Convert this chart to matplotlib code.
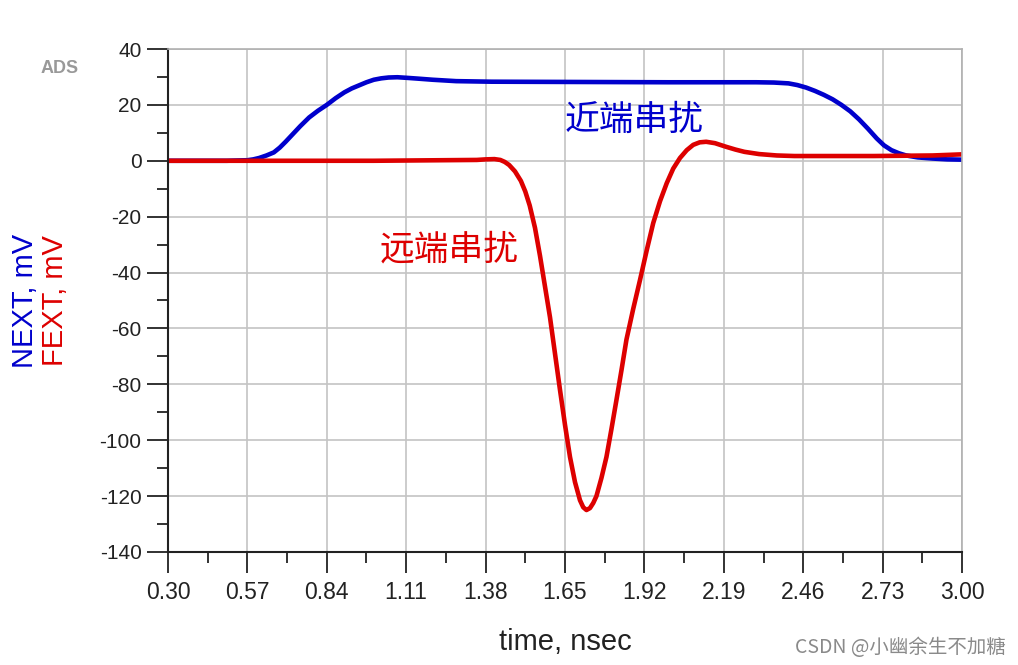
import matplotlib
matplotlib.use("Agg")
import matplotlib.pyplot as plt
from matplotlib.ticker import MultipleLocator, FixedLocator

# NEXT (near-end crosstalk), mV vs time in nsec
next_t = [0.30, 0.50, 0.57, 0.59, 0.61, 0.635, 0.66, 0.68, 0.70, 0.725,
          0.75, 0.78, 0.81, 0.84, 0.87, 0.90, 0.925, 0.95, 0.975, 1.00,
          1.025, 1.05, 1.08, 1.11, 1.15, 1.20, 1.28, 1.40, 2.00, 2.30,
          2.36, 2.41, 2.44, 2.47, 2.50, 2.53, 2.56, 2.59, 2.62, 2.65,
          2.68, 2.71, 2.735, 2.76, 2.785, 2.81, 2.85, 2.90, 2.95, 3.00]
next_v = [0.0, 0.0, 0.2, 0.5, 1.0, 1.9, 3.0, 4.7, 6.8, 9.6,
          12.4, 15.5, 17.9, 20.0, 22.4, 24.5, 25.9, 27.0, 28.1, 29.0,
          29.5, 29.8, 29.9, 29.7, 29.4, 29.0, 28.5, 28.3, 28.1, 28.1,
          28.0, 27.7, 27.1, 26.2, 25.0, 23.6, 22.0, 20.0, 17.7, 14.8,
          11.5, 8.0, 5.5, 3.8, 2.7, 1.9, 1.2, 0.8, 0.5, 0.4]

# FEXT (far-end crosstalk), mV vs time in nsec
fext_t = [0.30, 0.57, 1.00, 1.35, 1.38, 1.41, 1.43, 1.445, 1.46, 1.48,
          1.50, 1.515, 1.53, 1.548, 1.565, 1.582, 1.599, 1.616, 1.633,
          1.65, 1.667, 1.684, 1.701, 1.712, 1.723, 1.735, 1.746, 1.757,
          1.774, 1.791, 1.808, 1.825, 1.842, 1.859, 1.882, 1.905, 1.928,
          1.95, 1.973, 1.996, 2.018, 2.041, 2.064, 2.086, 2.108, 2.13,
          2.16, 2.198, 2.23, 2.26, 2.31, 2.37, 2.43, 2.70, 2.90, 3.00]
fext_v = [0.0, 0.0, 0.0, 0.3, 0.5, 0.6, 0.3, -0.4, -1.5, -3.8,
          -7.2, -11.0, -16.0, -24.0, -34.0, -45.0, -56.0, -69.0, -82.0,
          -94.5, -106.0, -115.0, -121.5, -124.0, -125.0, -124.3, -122.5, -120.0,
          -113.5, -106.0, -96.0, -85.6, -75.0, -64.0, -53.0, -42.7, -32.0,
          -22.3, -14.5, -8.0, -2.8, 1.0, 3.8, 5.7, 6.6, 6.8,
          6.3, 5.0, 4.0, 3.2, 2.4, 1.9, 1.7, 1.7, 1.9, 2.3]

x_ticks = [0.30, 0.57, 0.84, 1.11, 1.38, 1.65, 1.92, 2.19, 2.46, 2.73, 3.00]
y_ticks = [40, 20, 0, -20, -40, -60, -80, -100, -120, -140]

blue = "#0000cc"
red = "#dd0000"
label_font = ["Liberation Sans", "DejaVu Sans"]
cjk_font = ["Noto Sans CJK SC", "DejaVu Sans"]


def main():
    fig = plt.figure(figsize=(10.18, 6.65), dpi=100)
    ax = fig.add_axes([0.165, 0.170, 0.780, 0.7563])

    ax.plot(next_t, next_v, color=blue, lw=3.3, solid_capstyle="round",
            solid_joinstyle="round")
    ax.plot(fext_t, fext_v, color=red, lw=3.3, solid_capstyle="round",
            solid_joinstyle="round")

    ax.set_xlim(0.30, 3.00)
    ax.set_ylim(-140, 40)
    ax.xaxis.set_major_locator(FixedLocator(x_ticks))
    ax.xaxis.set_minor_locator(FixedLocator(
        [a + 0.135 for a in x_ticks[:-1]]))
    ax.yaxis.set_major_locator(FixedLocator(y_ticks))
    ax.yaxis.set_minor_locator(MultipleLocator(10))
    ax.set_xticklabels(["%.2f" % v for v in x_ticks])
    ax.set_yticklabels([str(v) for v in y_ticks])

    ax.grid(True, which="major", color="#c4c4c4", lw=1.2)
    ax.set_axisbelow(True)
    for side in ["top", "right"]:
        ax.spines[side].set_color("#b0b0b0")
        ax.spines[side].set_linewidth(1.2)
    for side in ["left", "bottom"]:
        ax.spines[side].set_color("#222222")
        ax.spines[side].set_linewidth(1.5)

    ax.tick_params(which="major", direction="out", length=15, width=1.3,
                   color="#222222", pad=4)
    ax.tick_params(which="minor", direction="out", length=8, width=1.3,
                   color="#222222")
    ax.tick_params(axis="y", which="major", labelsize=15)
    ax.tick_params(axis="x", which="major", labelsize=16.5, pad=6)
    for lab in ax.get_xticklabels() + ax.get_yticklabels():
        lab.set_family(label_font)
        lab.set_color("#222222")

    ax.text(1.65, 14.5, "近端串扰", color=blue, fontsize=25,
            family=cjk_font, va="center", ha="left")
    ax.text(1.02, -32, "远端串扰", color=red, fontsize=25,
            family=cjk_font, va="center", ha="left")

    fig.text(0.555, 0.035, "time, nsec", fontsize=21, family=label_font,
             color="#222222", ha="center", va="center")
    fig.text(0.025, 0.548, "NEXT, mV", fontsize=21, family=label_font,
             color=blue, rotation=90, ha="center", va="center")
    fig.text(0.054, 0.548, "FEXT, mV", fontsize=21, family=label_font,
             color=red, rotation=90, ha="center", va="center")
    fig.text(0.059, 0.897, "ADS", fontsize=13, family=label_font,
             color="#999999", ha="center", va="center", weight="bold")
    fig.text(0.885, 0.027, "CSDN @小幽余生不加糖", fontsize=14,
             family=cjk_font, color="#8a8a8a", ha="center", va="center")

    fig.savefig("out.png", dpi=100)


if __name__ == "__main__":
    main()
